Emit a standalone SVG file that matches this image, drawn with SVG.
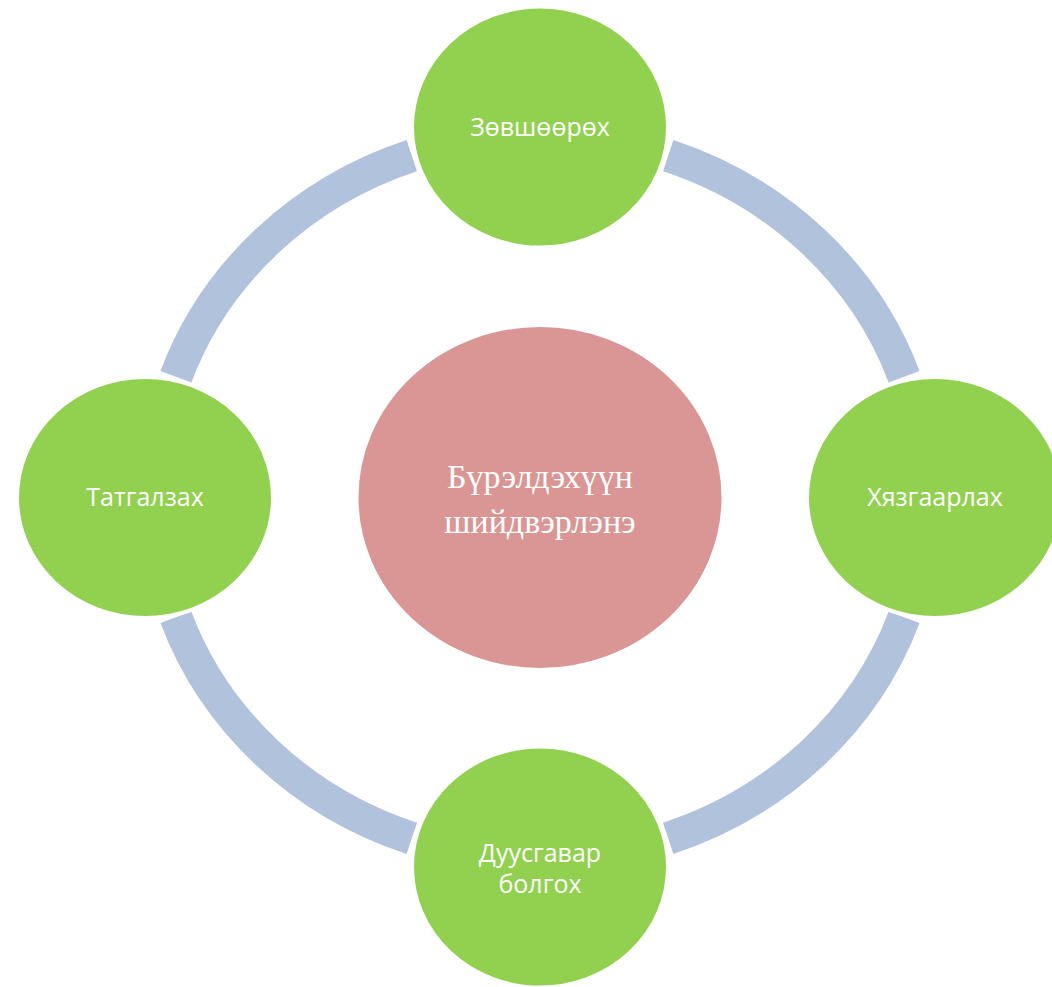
<svg xmlns="http://www.w3.org/2000/svg" width="1052" height="987" viewBox="0 0 1052 987">
<style>
.ring{fill:none;stroke:#B1C2DD;stroke-width:33;stroke-linecap:butt}
.node{fill:#92D050;stroke:#FFFFFF;stroke-width:4}
.center{fill:#D99694;stroke:#FFFFFF;stroke-width:3}
.lbl{font-family:"Open Sans","Liberation Sans",sans-serif;font-size:25px;fill:#FFFFFF;text-anchor:middle}
.clbl{font-family:"Liberation Serif","DejaVu Serif",serif;font-size:34px;fill:#FFFFFF;text-anchor:middle}
</style>
<rect width="1052" height="987" fill="#FFFFFF"/>
<g id="connectors">
<path class="ring" d="M175.9,376.7 A386,362 0 0 1 411.8,155.6"/>
<path class="ring" d="M668.2,155.6 A386,362 0 0 1 904.1,376.7"/>
<path class="ring" d="M904.1,617.3 A386,362 0 0 1 668.2,838.4"/>
<path class="ring" d="M411.8,838.4 A386,362 0 0 1 175.9,617.3"/>
</g>
<g id="node-center">
<ellipse class="center" cx="540" cy="497.5" rx="183" ry="172"/>
<text class="clbl" x="540" y="488">Бүрэлдэхүүн</text>
<text class="clbl" x="540" y="533">шийдвэрлэнэ</text>
</g>
<g id="node-top">
<ellipse class="node" cx="540" cy="127" rx="128" ry="120.5"/>
<text class="lbl" x="540" y="136">Зөвшөөрөх</text>
</g>
<g id="node-right">
<ellipse class="node" cx="935" cy="497.5" rx="128" ry="120.5"/>
<text class="lbl" x="935" y="506">Хязгаарлах</text>
</g>
<g id="node-bottom">
<ellipse class="node" cx="540" cy="867" rx="128" ry="120.5"/>
<text class="lbl" x="540" y="862">Дуусгавар</text>
<text class="lbl" x="540" y="893">болгох</text>
</g>
<g id="node-left">
<ellipse class="node" cx="145" cy="497.5" rx="128" ry="120.5"/>
<text class="lbl" x="145" y="506">Татгалзах</text>
</g>
</svg>
